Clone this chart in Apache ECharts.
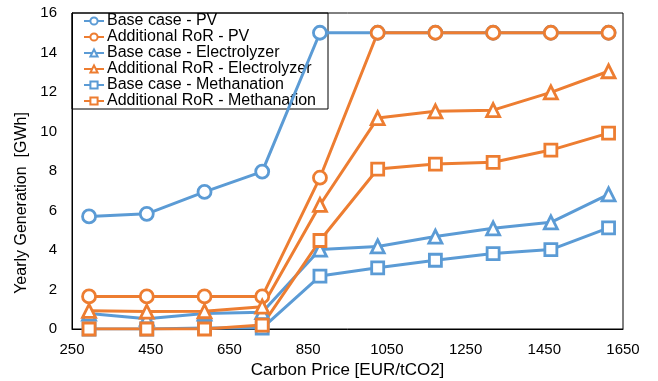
<!DOCTYPE html>
<html>
<head>
<meta charset="utf-8">
<script src="https://cdn.jsdelivr.net/npm/echarts@6/dist/echarts.min.js"></script>
<style>
  html, body { margin: 0; padding: 0; background: #fff; }
  #chart { width: 658px; height: 381px; }
</style>
</head>
<body>
<div id="chart"></div>
<script>
// carbon price (x) for each point
const carbonPrice = [293.3, 440, 586.7, 733.3, 880, 1026.7, 1173.3, 1320, 1466.7, 1613.3];
// yearly generation [GWh]
const basePV = [5.7, 5.83, 6.94, 7.97, 15, 15, 15, 15, 15, 15];
const rorPV = [1.65, 1.65, 1.65, 1.65, 7.66, 15, 15, 15, 15, 15];
const baseElec = [0.78, 0.52, 0.78, 0.85, 4.02, 4.18, 4.68, 5.1, 5.4, 6.82];
const rorElec = [0.92, 0.88, 0.9, 1.13, 6.28, 10.68, 11.02, 11.08, 11.98, 13.05];
const baseMeth = [0, 0, 0.05, 0.05, 2.68, 3.1, 3.48, 3.82, 4.02, 5.12];
const rorMeth = [0, 0, 0, 0.2, 4.48, 8.1, 8.35, 8.44, 9.06, 9.92];
const xTicks = [250, 450, 650, 850, 1050, 1250, 1450, 1650];

const blue = '#5b9bd5';
const orange = '#ed7d31';

const myChart = echarts.init(document.getElementById('chart'));

function mk(name, values, color, symbol, size) {
  return {
    name: name,
    type: 'line',
    z: 3,
    data: carbonPrice.map((x, i) => [x, values[i]]),
    symbol: symbol,
    symbolSize: size,
    showAllSymbol: true,
    lineStyle: { color: color, width: 3 },
    itemStyle: { color: '#fff', borderColor: color, borderWidth: 2.8 },
    emphasis: { disabled: true }
  };
}

const option = {
  animation: false,
  textStyle: { fontFamily: 'Liberation Sans, Arial, sans-serif' },
  grid: {
    left: 72, right: 35, top: 13, bottom: 52,
    outerBoundsMode: 'none',
    show: true, borderColor: '#000', borderWidth: 1
  },
  legend: {
    z: 1,
    orient: 'vertical',
    left: 72, top: 13,
    backgroundColor: 'transparent',
    borderColor: '#000', borderWidth: 1,
    padding: [0, 12, 0, 11],
    itemGap: 0,
    itemWidth: 20, itemHeight: 9,
    textStyle: { fontSize: 16, color: '#000', lineHeight: 16, padding: [0, 0, 0, -2] },
    data: ['Base case - PV', 'Additional RoR - PV', 'Base case - Electrolyzer',
      'Additional RoR - Electrolyzer', 'Base case - Methanation', 'Additional RoR - Methanation']
  },
  xAxis: {
    type: 'value',
    min: xTicks[0], max: xTicks[xTicks.length - 1], interval: 200,
    name: 'Carbon Price [EUR/tCO2]',
    nameLocation: 'middle', nameGap: 31,
    nameTextStyle: { fontSize: 17, color: '#000' },
    axisLine: { lineStyle: { color: '#000', width: 1 } },
    axisTick: { show: false },
    axisLabel: { fontSize: 15, color: '#000', margin: 13, formatter: v => String(v) },
    splitLine: { show: false }
  },
  yAxis: {
    type: 'value',
    min: 0, max: 16, interval: 2,
    name: 'Yearly Generation  [GWh]',
    nameLocation: 'middle', nameGap: 39,
    nameTextStyle: { fontSize: 16, color: '#000', padding: [0, 64, 0, 0] },
    axisLine: { show: true, lineStyle: { color: '#000', width: 1 } },
    axisTick: { show: false },
    axisLabel: { fontSize: 15, color: '#000', margin: 15 },
    splitLine: { show: false }
  },
  series: [
    mk('Base case - PV', basePV, blue, 'circle', 13),
    mk('Additional RoR - PV', rorPV, orange, 'circle', 13),
    mk('Base case - Electrolyzer', baseElec, blue, 'triangle', 13),
    mk('Additional RoR - Electrolyzer', rorElec, orange, 'triangle', 13),
    mk('Base case - Methanation', baseMeth, blue, 'rect', 12),
    mk('Additional RoR - Methanation', rorMeth, orange, 'rect', 12)
  ]
};
myChart.setOption(option);
</script>
</body>
</html>
